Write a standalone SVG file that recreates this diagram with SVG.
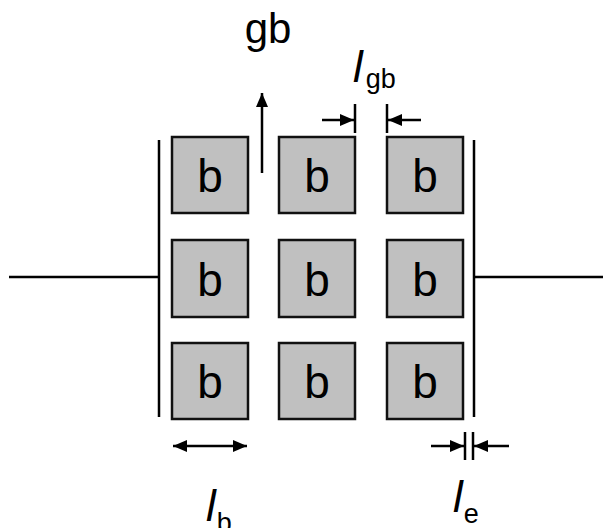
<svg xmlns="http://www.w3.org/2000/svg" width="614" height="528" viewBox="0 0 614 528">
<style>
.box{fill:#c0c0c0;stroke:#111;stroke-width:2.5}
.bt{font-family:"Liberation Sans",Arial,sans-serif;font-size:46px;fill:#000;text-anchor:middle}
.ln{stroke:#000;stroke-width:2.5;fill:none}
.lbl{font-family:"Liberation Sans",Arial,sans-serif;fill:#000}
.it{font-style:italic}
</style>
<defs>
<marker id="ah" viewBox="0 0 14 12" refX="14" refY="6" markerWidth="14" markerHeight="12" markerUnits="userSpaceOnUse" orient="auto-start-reverse">
<path d="M0,0 L14,6 L0,12 Z" fill="#000"/>
</marker>
</defs>
<rect width="614" height="528" fill="#fff"/>
<g id="wires">
<line class="ln" x1="9" y1="277" x2="159" y2="277"/>
<line class="ln" x1="474" y1="277" x2="603" y2="277"/>
</g>
<g id="plate-left"><line class="ln" x1="159" y1="140" x2="159" y2="417"/></g>
<g id="plate-right"><line class="ln" x1="474" y1="140" x2="474" y2="417"/></g>
<g id="b11"><rect class="box" x="172" y="137" width="76" height="76"/><text class="bt" x="210" y="192">b</text></g>
<g id="b12"><rect class="box" x="279" y="137" width="76" height="76"/><text class="bt" x="317" y="192">b</text></g>
<g id="b13"><rect class="box" x="387" y="137" width="76" height="76"/><text class="bt" x="425" y="192">b</text></g>
<g id="b21"><rect class="box" x="172" y="240" width="76" height="77"/><text class="bt" x="210" y="296">b</text></g>
<g id="b22"><rect class="box" x="279" y="240" width="76" height="77"/><text class="bt" x="317" y="296">b</text></g>
<g id="b23"><rect class="box" x="387" y="240" width="76" height="77"/><text class="bt" x="425" y="296">b</text></g>
<g id="b31"><rect class="box" x="172" y="343" width="76" height="76"/><text class="bt" x="210" y="398">b</text></g>
<g id="b32"><rect class="box" x="279" y="343" width="76" height="76"/><text class="bt" x="317" y="398">b</text></g>
<g id="b33"><rect class="box" x="387" y="343" width="76" height="76"/><text class="bt" x="425" y="398">b</text></g>
<g id="connectors">
<line class="ln" x1="262" y1="173" x2="262" y2="93" marker-end="url(#ah)"/>
<line class="ln" x1="355" y1="104" x2="355" y2="133"/>
<line class="ln" x1="387" y1="104" x2="387" y2="133"/>
<line class="ln" x1="322" y1="120" x2="354" y2="120" marker-end="url(#ah)"/>
<line class="ln" x1="421" y1="120" x2="388" y2="120" marker-end="url(#ah)"/>
<line class="ln" x1="173" y1="446" x2="247" y2="446" marker-start="url(#ah)" marker-end="url(#ah)"/>
<line class="ln" x1="465" y1="432" x2="465" y2="460"/>
<line class="ln" x1="473" y1="432" x2="473" y2="460"/>
<line class="ln" x1="431" y1="446" x2="464" y2="446" marker-end="url(#ah)"/>
<line class="ln" x1="509" y1="446" x2="474" y2="446" marker-end="url(#ah)"/>
</g>
<g id="labels">
<text class="lbl" x="268" y="43" font-size="42" text-anchor="middle">gb</text>
<text class="lbl" x="353" y="82" font-size="44"><tspan class="it">l</tspan><tspan font-size="27" dx="3" dy="6">gb</tspan></text>
<text class="lbl" x="206" y="521" font-size="44"><tspan class="it">l</tspan><tspan font-size="27" dx="1" dy="11">b</tspan></text>
<text class="lbl" x="453" y="512" font-size="44"><tspan class="it">l</tspan><tspan font-size="27" dx="1" dy="11">e</tspan></text>
</g>
</svg>
